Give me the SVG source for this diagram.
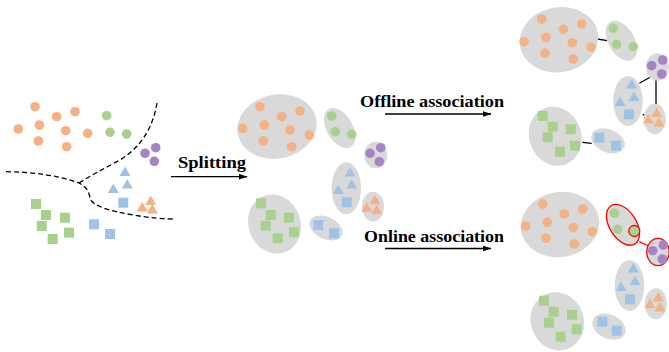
<svg xmlns="http://www.w3.org/2000/svg" xmlns:xlink="http://www.w3.org/1999/xlink" width="669" height="352" viewBox="0 0 669 352">
<style>
.or{fill:#F4B183}.gr{fill:#A9D18E}.bl{fill:#9DC3E6}.pu{fill:#A683C2}
.cl{fill:#D9D9D9}
.red{fill:#D9D9D9;stroke:#FF0000;stroke-width:1.3}
.lbl{font-family:"Liberation Serif","Times New Roman",serif;font-weight:bold;font-size:17.5px;fill:#000}
.arr{stroke:#000;stroke-width:1.3;fill:none;marker-end:url(#ah)}
.dash{stroke:#000;stroke-width:1.3;fill:none;stroke-dasharray:5 3}
.lk{stroke:#000;stroke-width:1.3;fill:none}
.lkr{stroke:#FF0000;stroke-width:1.3;fill:none}
</style>
<defs>
<circle id="c" r="4.8"/>
<rect id="s" x="-5" y="-5" width="10" height="10"/>
<path id="t" d="M0,-5.5 L5.5,4 L-5.5,4 Z"/>
<marker id="ah" markerWidth="9" markerHeight="6" refX="8.5" refY="3" orient="auto" markerUnits="userSpaceOnUse">
<path d="M0,0 L9,3 L0,6 Z" fill="#000"/>
</marker>
</defs>

<g id="connectors">
<path class="dash" d="M157,103 C153,128 140,148 120,160 C105,168 90,176 79,183"/>
<path class="dash" d="M6,171.7 C35,172 60,176 79,183 C87,187 89,192 90,198 C92,206 110,211 133,215 C150,218 165,219 175,219"/>
<line class="arr" x1="171" y1="176.7" x2="247" y2="176.7"/>
<line class="arr" x1="385" y1="114" x2="491" y2="114"/>
<line class="arr" x1="385" y1="248.5" x2="491" y2="248.5"/>
<line class="lk" x1="597.3" y1="39" x2="607.3" y2="40.7"/>
<line class="lk" x1="639.3" y1="83.3" x2="650" y2="77.3"/>
<line class="lk" x1="656" y1="80" x2="656" y2="105"/>
<line class="lk" x1="642.7" y1="114.3" x2="646" y2="116"/>
<line class="lk" x1="582.3" y1="142.3" x2="591.7" y2="143.3"/>
<line class="lkr" x1="639.3" y1="241.7" x2="649" y2="246"/>
</g>

<g id="labels">
<text class="lbl" x="178" y="168" textLength="68" lengthAdjust="spacingAndGlyphs">Splitting</text>
<text class="lbl" x="360" y="107" textLength="144" lengthAdjust="spacingAndGlyphs">Offline association</text>
<text class="lbl" x="364" y="241.5" textLength="140" lengthAdjust="spacingAndGlyphs">Online association</text>
</g>

<!-- Left: raw detections -->
<g id="raw-orange">
<use href="#c" class="or" x="35" y="106.7"/><use href="#c" class="or" x="56.7" y="116.7"/><use href="#c" class="or" x="75" y="111.7"/>
<use href="#c" class="or" x="18.3" y="129"/><use href="#c" class="or" x="39.3" y="125"/><use href="#c" class="or" x="65.7" y="130.7"/>
<use href="#c" class="or" x="38.3" y="141"/><use href="#c" class="or" x="66.7" y="146.7"/><use href="#c" class="or" x="87.7" y="133.3"/>
</g>
<g id="raw-green">
<use href="#c" class="gr" x="106.7" y="115.7"/><use href="#c" class="gr" x="110" y="132.3"/><use href="#c" class="gr" x="126.7" y="134"/>
</g>
<g id="raw-purple">
<use href="#c" class="pu" x="145" y="153.3"/><use href="#c" class="pu" x="155.7" y="147.7"/><use href="#c" class="pu" x="154.3" y="161.3"/>
</g>
<g id="raw-blue">
<use href="#t" class="bl" x="125" y="172"/><use href="#t" class="bl" x="127.3" y="184.5"/><use href="#t" class="bl" x="113.3" y="189"/>
<use href="#s" class="bl" x="123.3" y="202.7"/><use href="#s" class="bl" x="94" y="224.3"/><use href="#s" class="bl" x="110" y="234"/>
</g>
<g id="raw-orange-tri">
<use href="#t" class="or" x="150.7" y="201"/><use href="#t" class="or" x="142.3" y="207.5"/><use href="#t" class="or" x="152.3" y="209.5"/>
</g>
<g id="raw-green-sq">
<use href="#s" class="gr" x="36" y="204"/><use href="#s" class="gr" x="46" y="215"/><use href="#s" class="gr" x="65" y="217.7"/>
<use href="#s" class="gr" x="41.7" y="226"/><use href="#s" class="gr" x="69" y="232.7"/><use href="#s" class="gr" x="52.7" y="239"/>
</g>

<!-- Middle: split tracklets -->
<g id="m-orange">
<ellipse class="cl" cx="277" cy="126.5" rx="40" ry="32" transform="rotate(-12 277 126.5)"/>
<use href="#c" class="or" x="260" y="106.7"/><use href="#c" class="or" x="300" y="111"/><use href="#c" class="or" x="281.7" y="116.7"/>
<use href="#c" class="or" x="242.7" y="128.3"/><use href="#c" class="or" x="264.3" y="125"/><use href="#c" class="or" x="290" y="130"/>
<use href="#c" class="or" x="309.3" y="135"/><use href="#c" class="or" x="263.3" y="141"/><use href="#c" class="or" x="291.7" y="146.7"/>
</g>
<g id="m-green">
<ellipse class="cl" cx="339.7" cy="128" rx="13" ry="22" transform="rotate(-30 339.7 128)"/>
<use href="#c" class="gr" x="331.7" y="116"/><use href="#c" class="gr" x="335.3" y="131.7"/><use href="#c" class="gr" x="351.7" y="134.3"/>
</g>
<g id="m-purple">
<ellipse class="cl" cx="375.8" cy="155" rx="11.5" ry="13.3"/>
<use href="#c" class="pu" x="370" y="153.3"/><use href="#c" class="pu" x="380.7" y="147.7"/><use href="#c" class="pu" x="379.3" y="161.7"/>
</g>
<g id="m-blue">
<ellipse class="cl" cx="346.3" cy="188.3" rx="14.7" ry="26"/>
<use href="#t" class="bl" x="350" y="172.5"/><use href="#t" class="bl" x="351.7" y="184.5"/><use href="#t" class="bl" x="338.3" y="190"/>
<use href="#s" class="bl" x="346.7" y="202.3"/>
</g>
<g id="m-orange-tri">
<ellipse class="cl" cx="373" cy="206.7" rx="11" ry="15"/>
<use href="#t" class="or" x="375" y="200.3"/><use href="#t" class="or" x="366.7" y="207.7"/><use href="#t" class="or" x="376.7" y="210.3"/>
</g>
<g id="m-green-sq">
<ellipse class="cl" cx="274.5" cy="224" rx="26" ry="30" transform="rotate(-20 274.5 224)"/>
<use href="#s" class="gr" x="261" y="203.3"/><use href="#s" class="gr" x="270.7" y="215"/><use href="#s" class="gr" x="289" y="217.7"/>
<use href="#s" class="gr" x="265.7" y="225.7"/><use href="#s" class="gr" x="294" y="232.3"/><use href="#s" class="gr" x="277.7" y="238.3"/>
</g>
<g id="m-blue-sq">
<ellipse class="cl" cx="326" cy="228" rx="17.5" ry="11" transform="rotate(25 326 228)"/>
<use href="#s" class="bl" x="318.3" y="225"/><use href="#s" class="bl" x="334" y="233.3"/>
</g>

<!-- Top right: offline association -->
<g id="off-orange">
<ellipse class="cl" cx="559" cy="39.7" rx="39.5" ry="32.5" transform="rotate(-10 559 39.7)"/>
<use href="#c" class="or" x="541.7" y="19"/><use href="#c" class="or" x="581.7" y="24"/><use href="#c" class="or" x="563.3" y="29.3"/>
<use href="#c" class="or" x="524" y="41.7"/><use href="#c" class="or" x="546" y="37.3"/><use href="#c" class="or" x="572.3" y="42.7"/>
<use href="#c" class="or" x="591" y="47.3"/><use href="#c" class="or" x="545" y="53.3"/><use href="#c" class="or" x="573.3" y="59"/>
</g>
<g id="off-green">
<ellipse class="cl" cx="621.3" cy="40.7" rx="13" ry="22" transform="rotate(-30 621.3 40.7)"/>
<use href="#c" class="gr" x="613.3" y="28.3"/><use href="#c" class="gr" x="616.7" y="44.3"/><use href="#c" class="gr" x="633.3" y="46.7"/>
</g>
<g id="off-purple">
<ellipse class="cl" cx="657.5" cy="67" rx="11.5" ry="13.7"/>
<use href="#c" class="pu" x="651.7" y="65.7"/><use href="#c" class="pu" x="662.7" y="60"/><use href="#c" class="pu" x="661.7" y="74"/>
</g>
<g id="off-blue">
<ellipse class="cl" cx="628" cy="101" rx="14.7" ry="25"/>
<use href="#t" class="bl" x="631.7" y="84.5"/><use href="#t" class="bl" x="634" y="97"/><use href="#t" class="bl" x="620" y="102"/>
<use href="#s" class="bl" x="629" y="114.3"/>
</g>
<g id="off-orange-tri">
<ellipse class="cl" cx="654.8" cy="119" rx="11" ry="15.2"/>
<use href="#t" class="or" x="656.7" y="113"/><use href="#t" class="or" x="648.3" y="119.5"/><use href="#t" class="or" x="659" y="122.5"/>
</g>
<g id="off-green-sq">
<ellipse class="cl" cx="555.3" cy="136.2" rx="26" ry="30" transform="rotate(-20 555.3 136.2)"/>
<use href="#s" class="gr" x="542.7" y="116"/><use href="#s" class="gr" x="552.7" y="126.7"/><use href="#s" class="gr" x="570.7" y="129.3"/>
<use href="#s" class="gr" x="547.7" y="137.3"/><use href="#s" class="gr" x="575" y="145.7"/><use href="#s" class="gr" x="560" y="151.7"/>
</g>
<g id="off-blue-sq">
<ellipse class="cl" cx="608" cy="140.8" rx="17.5" ry="11.5" transform="rotate(22 608 140.8)"/>
<use href="#s" class="bl" x="599.3" y="137.7"/><use href="#s" class="bl" x="616" y="145.7"/>
</g>

<!-- Bottom right: online association -->
<g id="on-orange">
<ellipse class="cl" cx="560" cy="224.5" rx="39.5" ry="32.5" transform="rotate(-10 560 224.5)"/>
<use href="#c" class="or" x="542.7" y="204"/><use href="#c" class="or" x="582.7" y="209"/><use href="#c" class="or" x="564.3" y="214"/>
<use href="#c" class="or" x="525.7" y="226"/><use href="#c" class="or" x="547.3" y="222.3"/><use href="#c" class="or" x="573.3" y="227.7"/>
<use href="#c" class="or" x="592.3" y="231.7"/><use href="#c" class="or" x="546" y="238.3"/><use href="#c" class="or" x="574.3" y="244"/>
</g>
<g id="on-green">
<ellipse class="red" cx="623" cy="224.8" rx="13.5" ry="22.5" transform="rotate(-32 623 224.8)"/>
<use href="#c" class="gr" x="614.3" y="213.3"/><use href="#c" class="gr" x="617.7" y="229.3"/>
<circle cx="634.3" cy="231" r="5.5" fill="#A9D18E" stroke="#FF0000" stroke-width="1.3"/>
</g>
<g id="on-purple">
<ellipse class="red" cx="658" cy="252" rx="11.2" ry="13.7"/>
<use href="#c" class="pu" x="652.7" y="250.7"/><use href="#c" class="pu" x="663.3" y="245"/><use href="#c" class="pu" x="662.3" y="259"/>
</g>
<g id="on-blue">
<ellipse class="cl" cx="629.5" cy="285.5" rx="14.7" ry="25.5"/>
<use href="#t" class="bl" x="633.3" y="268.5"/><use href="#t" class="bl" x="635" y="281"/><use href="#t" class="bl" x="621" y="287"/>
<use href="#s" class="bl" x="630" y="299.3"/>
</g>
<g id="on-orange-tri">
<ellipse class="cl" cx="655.8" cy="303.8" rx="11" ry="15.5"/>
<use href="#t" class="or" x="658.3" y="297.5"/><use href="#t" class="or" x="650" y="304.3"/><use href="#t" class="or" x="660" y="307.5"/>
</g>
<g id="on-green-sq">
<ellipse class="cl" cx="557.3" cy="321.3" rx="26.5" ry="29.5" transform="rotate(-20 557.3 321.3)"/>
<use href="#s" class="gr" x="544" y="300.7"/><use href="#s" class="gr" x="553.7" y="311.7"/><use href="#s" class="gr" x="572" y="314.7"/>
<use href="#s" class="gr" x="549" y="322.7"/><use href="#s" class="gr" x="576.7" y="329.3"/><use href="#s" class="gr" x="560.7" y="336.7"/>
</g>
<g id="on-blue-sq">
<ellipse class="cl" cx="609" cy="326.7" rx="17.5" ry="12" transform="rotate(25 609 326.7)"/>
<use href="#s" class="bl" x="602.3" y="321.7"/><use href="#s" class="bl" x="616.7" y="330.7"/>
</g>
</svg>
